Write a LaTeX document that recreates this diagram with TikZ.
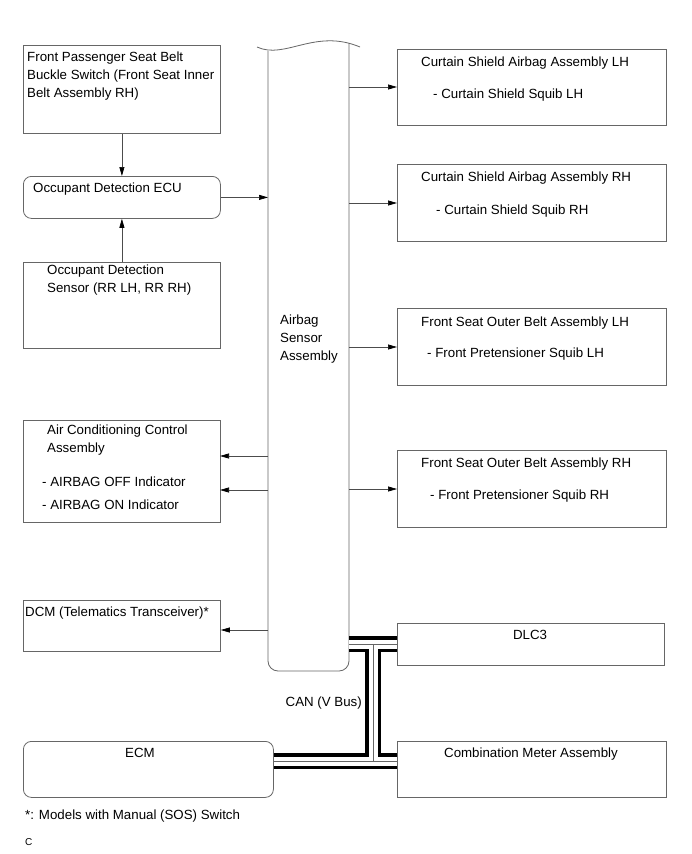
\documentclass[tikz,border=0pt]{standalone}
\usepackage{fontspec}
\setmainfont{Liberation Sans}
\usetikzlibrary{arrows.meta}
\tikzset{
  x=1pt,y=-1pt,
  box/.style={draw=black!60,line width=0.8pt,anchor=north west,inner sep=0,fill=none},
  rbox/.style={box,rounded corners=8pt},
  txt/.style={anchor=west,inner sep=0,text height=9.5pt,text depth=0pt,font=\fontsize{13.3}{16}\selectfont},
  ctxt/.style={txt,anchor=center},
  arr/.style={draw=black!70,line width=0.7pt,-{Triangle[length=9pt,width=5pt,black]}},
  busa/.style={line width=16pt,black},
  busb/.style={line width=9pt,white},
  busc/.style={line width=0.6pt,black!60},
}
\begin{document}
\begin{tikzpicture}
\useasboundingbox[fill=white] (0,0) rectangle (691,854);

% left boxes
\node[box,minimum width=197pt,minimum height=88pt] (fp) at (23,45) {};
\node[txt] (fp1) at (27,57) {Front Passenger Seat Belt};
\node[txt] (fp2) at (27,75) {Buckle Switch (Front Seat Inner};
\node[txt] (fp3) at (27,93) {Belt Assembly RH)};

\node[rbox,minimum width=197pt,minimum height=42pt] (ecu) at (23,176) {};
\node[txt] (ecut) at (33,188) {Occupant Detection ECU};

\node[box,minimum width=197pt,minimum height=86pt] (ods) at (23,262) {};
\node[txt] (ods1) at (47,270) {Occupant Detection};
\node[txt] (ods2) at (47,288) {Sensor (RR LH, RR RH)};

\node[box,minimum width=197pt,minimum height=102pt] (ac) at (23,420) {};
\node[txt] (ac1) at (47,430) {Air Conditioning Control};
\node[txt] (ac2) at (47,448) {Assembly};
\node[txt] (ac3) at (42,482) {- AIRBAG OFF Indicator};
\node[txt] (ac4) at (42,505) {- AIRBAG ON Indicator};
\coordinate (acA) at (220,456);
\coordinate (acB) at (220,490);

\node[box,minimum width=197pt,minimum height=51pt] (dcm) at (23,600) {};
\node[txt] (dcmt) at (25,612) {DCM (Telematics Transceiver)*};

\node[rbox,minimum width=250pt,minimum height=56pt] (ecm) at (23,741) {};
\node[ctxt] (ecmt) at (140,753) {ECM};

% airbag sensor assembly
\node[inner sep=0,anchor=north west,minimum width=81pt,minimum height=619pt] (asa) at (268,52) {};
\draw[black!60,line width=0.8pt,rounded corners=10pt] (268,51) -- (268,671) -- (349,671) -- (349,43);
\draw[black!60,line width=0.8pt] (257,47) .. controls (285,60) and (315,28) .. (360,47);
\node[txt] (asa1) at (280,320) {Airbag};
\node[txt] (asa2) at (280,338) {Sensor};
\node[txt] (asa3) at (280,356) {Assembly};

% right boxes
\node[box,minimum width=269pt,minimum height=76pt] (cl) at (397,49) {};
\node[txt] (cl1) at (421,62) {Curtain Shield Airbag Assembly LH};
\node[txt] (cl2) at (433,94) {- Curtain Shield Squib LH};

\node[box,minimum width=269pt,minimum height=77pt] (cr) at (397,164) {};
\node[txt] (cr1) at (421,177) {Curtain Shield Airbag Assembly RH};
\node[txt] (cr2) at (436,210) {- Curtain Shield Squib RH};

\node[box,minimum width=269pt,minimum height=77pt] (fl) at (397,308) {};
\node[txt] (fl1) at (421,322) {Front Seat Outer Belt Assembly LH};
\node[txt] (fl2) at (427,353) {- Front Pretensioner Squib LH};

\node[box,minimum width=269pt,minimum height=77pt] (fr) at (397,450) {};
\node[txt] (fr1) at (421,463) {Front Seat Outer Belt Assembly RH};
\node[txt] (fr2) at (430,495) {- Front Pretensioner Squib RH};

\node[box,minimum width=267pt,minimum height=42pt] (dlc) at (397,623) {};
\node[ctxt] (dlct) at (530,635) {DLC3};

\node[box,minimum width=269pt,minimum height=56pt] (cm) at (397,741) {};
\node[ctxt] (cmt) at (531,753) {Combination Meter Assembly};

% arrows
\draw[arr] (fp.south) -- (ecu.north);
\draw[arr] (ods.north) -- (ecu.south);
\draw[arr] (ecu.east) -- (asa.west |- ecu.east);
\draw[arr] (asa.east |- 0,87) -- (cl.west |- 0,87);
\draw[arr] (asa.east |- 0,203) -- (cr.west |- 0,203);
\draw[arr] (asa.east |- 0,347) -- (fl.west |- 0,347);
\draw[arr] (asa.east |- 0,489) -- (fr.west |- 0,489);
\draw[arr] (asa.west |- acA) -- (acA);
\draw[arr] (asa.west |- acB) -- (acB);
\draw[arr] (asa.west |- 0,630) -- (dcm.east |- 0,630);

% CAN bus
\coordinate (bt) at (373,644);
\coordinate (bb) at (373,761);
\foreach \s in {busa,busb,busc}{
  \draw[\s] (asa.east |- bt) -- (dlc.west |- bt);
  \draw[\s] (bt) -- (bb);
  \draw[\s] (ecm.east |- bb) -- (cm.west |- bb);
}
\node[txt,anchor=east] (can) at (362,702) {CAN (V Bus)};

% footnote
\node[txt] (fn) at (25,815) {*: Models with Manual (SOS) Switch};
\node[txt,font=\fontsize{10}{12}\selectfont,text height=7pt] (cc) at (25,842) {C};
\end{tikzpicture}
\end{document}
